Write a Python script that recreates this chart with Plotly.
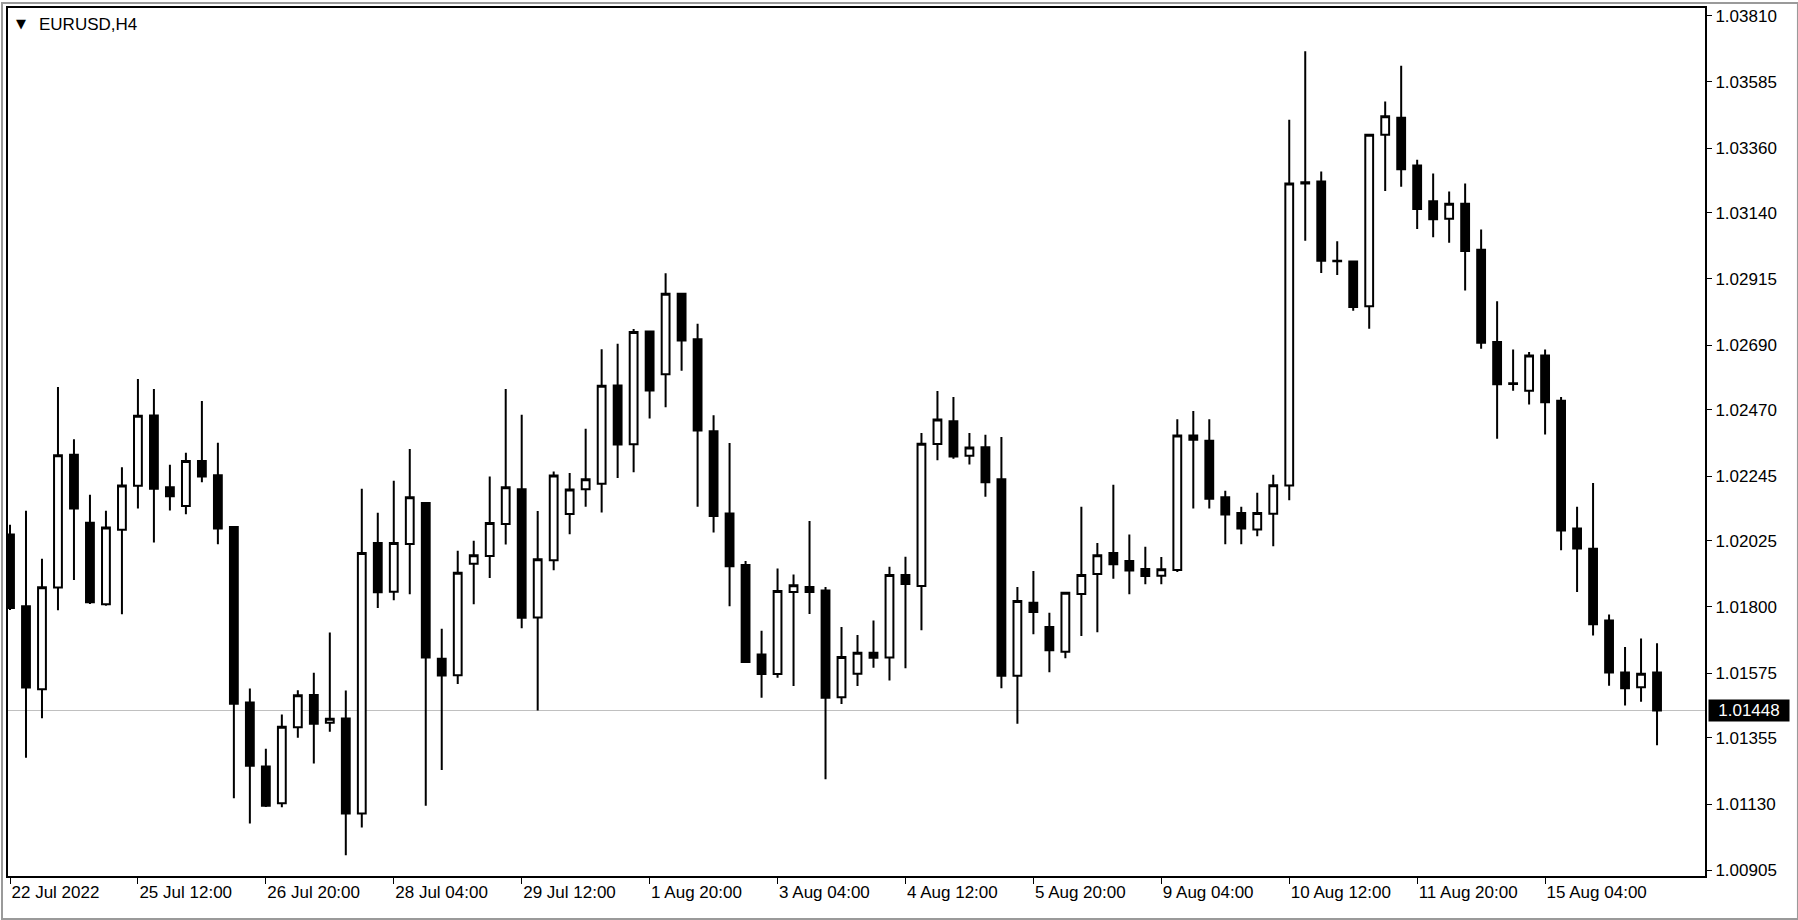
import plotly.graph_objects as go

# EURUSD H4 bars, oldest first
opens = [1.02046, 1.01802, 1.01520, 1.01866, 1.02317, 1.02086, 1.01809, 1.02062, 1.02212, 1.02451,
         1.02207, 1.02143, 1.02296, 1.02248, 1.02072, 1.01475, 1.01258, 1.01133, 1.01391, 1.01501,
         1.01406, 1.01421, 1.01098, 1.02017, 1.01852, 1.02014, 1.02153, 1.01624, 1.01568, 1.01947,
         1.01973, 1.02082, 1.02200, 1.01764, 1.01959, 1.02116, 1.02200, 1.02219, 1.02553, 1.02353,
         1.02736, 1.02591, 1.02865, 1.02710, 1.02397, 1.02118, 1.01943, 1.01638, 1.01572, 1.01851,
         1.01868, 1.01856, 1.01493, 1.01573, 1.01644, 1.01628, 1.01909, 1.01871, 1.02354, 1.02431,
         1.02314, 1.02343, 1.02234, 1.01566, 1.01814, 1.01732, 1.01648, 1.01844, 1.01912, 1.01983,
         1.01956, 1.01929, 1.01906, 1.01926, 1.02383, 1.02365, 1.02173, 1.02119, 1.02063, 1.02117,
         1.02213, 1.03244, 1.03246, 1.02977, 1.02974, 1.02822, 1.03405, 1.03463, 1.03301, 1.03179,
         1.03120, 1.03171, 1.03014, 1.02701, 1.02560, 1.02535, 1.02655, 1.02501, 1.02067, 1.01998,
         1.01754, 1.01577, 1.01527, 1.01577]
highs = [1.02079, 1.02127, 1.01964, 1.02548, 1.02370, 1.02181, 1.02127, 1.02275, 1.02575, 1.02541,
         1.02283, 1.02324, 1.02500, 1.02358, 1.02072, 1.01523, 1.01318, 1.01434, 1.01517, 1.01576,
         1.01713, 1.01516, 1.02202, 1.02120, 1.02229, 1.02337, 1.02156, 1.01726, 1.01991, 1.02025,
         1.02243, 1.02541, 1.02453, 1.02126, 1.02260, 1.02255, 1.02406, 1.02676, 1.02695, 1.02745,
         1.02740, 1.02934, 1.02868, 1.02763, 1.02452, 1.02357, 1.01956, 1.01719, 1.01931, 1.01910,
         1.02092, 1.01868, 1.01732, 1.01705, 1.01754, 1.01937, 1.01971, 1.02391, 1.02534, 1.02514,
         1.02391, 1.02385, 1.02378, 1.01868, 1.01922, 1.01780, 1.01850, 1.02141, 1.02017, 1.02215,
         1.02046, 1.02005, 1.01970, 1.02438, 1.02466, 1.02438, 1.02195, 1.02141, 1.02188, 1.02249,
         1.03456, 1.03689, 1.03280, 1.03043, 1.02976, 1.03408, 1.03518, 1.03640, 1.03320, 1.03273,
         1.03212, 1.03239, 1.03083, 1.02839, 1.02675, 1.02667, 1.02675, 1.02514, 1.02141, 1.02221,
         1.01774, 1.01664, 1.01693, 1.01677]
lows = [1.01790, 1.01287, 1.01422, 1.01789, 1.01892, 1.01810, 1.01804, 1.01775, 1.02135, 1.02019,
        1.02128, 1.02115, 1.02224, 1.02013, 1.01150, 1.01064, 1.01120, 1.01119, 1.01355, 1.01268,
        1.01376, 1.00956, 1.01050, 1.01796, 1.01823, 1.01843, 1.01124, 1.01246, 1.01538, 1.01809,
        1.01898, 1.02012, 1.01728, 1.01448, 1.01925, 1.02047, 1.02141, 1.02121, 1.02238, 1.02258,
        1.02441, 1.02479, 1.02603, 1.02141, 1.02053, 1.01802, 1.01610, 1.01491, 1.01559, 1.01531,
        1.01776, 1.01214, 1.01470, 1.01531, 1.01593, 1.01550, 1.01592, 1.01721, 1.02299, 1.02304,
        1.02284, 1.02175, 1.01524, 1.01403, 1.01707, 1.01578, 1.01626, 1.01701, 1.01714, 1.01896,
        1.01843, 1.01877, 1.01877, 1.01919, 1.02135, 1.02135, 1.02013, 1.02013, 1.02040, 1.02006,
        1.02163, 1.03045, 1.02935, 1.02928, 1.02807, 1.02746, 1.03214, 1.03228, 1.03085, 1.03057,
        1.03038, 1.02876, 1.02678, 1.02372, 1.02535, 1.02488, 1.02386, 1.01993, 1.01851, 1.01703,
        1.01532, 1.01465, 1.01478, 1.01330]
closes = [1.01796, 1.01526, 1.01867, 1.02316, 1.02135, 1.01816, 1.02070, 1.02213, 1.02450, 1.02202,
          1.02176, 1.02296, 1.02243, 1.02067, 1.01471, 1.01260, 1.01124, 1.01393, 1.01500, 1.01403,
          1.01420, 1.01098, 1.01983, 1.01850, 1.02017, 1.02173, 1.01628, 1.01567, 1.01916, 1.01976,
          1.02085, 1.02207, 1.01763, 1.01962, 1.02247, 1.02199, 1.02234, 1.02552, 1.02352, 1.02735,
          1.02536, 1.02865, 1.02706, 1.02400, 1.02109, 1.01938, 1.01613, 1.01572, 1.01854, 1.01874,
          1.01851, 1.01491, 1.01630, 1.01644, 1.01627, 1.01909, 1.01878, 1.02355, 1.02437, 1.02311,
          1.02342, 1.02224, 1.01566, 1.01820, 1.01783, 1.01653, 1.01848, 1.01909, 1.01976, 1.01945,
          1.01924, 1.01905, 1.01928, 1.02383, 1.02368, 1.02168, 1.02114, 1.02067, 1.02119, 1.02214,
          1.03239, 1.03239, 1.02977, 1.02975, 1.02820, 1.03405, 1.03468, 1.03288, 1.03153, 1.03118,
          1.03171, 1.03010, 1.02698, 1.02557, 1.02558, 1.02655, 1.02496, 1.02060, 1.01999, 1.01741,
          1.01577, 1.01524, 1.01573, 1.01448]

# time labels, one every 8 bars starting at the first bar
date_labels = ["22 Jul 2022", "25 Jul 12:00", "26 Jul 20:00", "28 Jul 04:00", "29 Jul 12:00",
               "1 Aug 20:00", "3 Aug 04:00", "4 Aug 12:00", "5 Aug 20:00", "9 Aug 04:00",
               "10 Aug 12:00", "11 Aug 20:00", "15 Aug 04:00"]
label_step = 8
price_labels = ["1.03810", "1.03585", "1.03360", "1.03140", "1.02915", "1.02690", "1.02470",
                "1.02245", "1.02025", "1.01800", "1.01575", "1.01355", "1.01130", "1.00905"]

bars = list(range(len(opens)))
last_price = closes[-1]

FONT = "Liberation Sans"

fig = go.Figure(go.Candlestick(
    x=bars, open=opens, high=highs, low=lows, close=closes,
    increasing=dict(line=dict(color="black", width=2), fillcolor="white"),
    decreasing=dict(line=dict(color="black", width=2), fillcolor="black"),
    whiskerwidth=0,
    showlegend=False,
))

# current bid line
fig.add_shape(type="line", xref="paper", x0=0, x1=1, y0=last_price, y1=last_price,
              line=dict(color="#c0c0c0", width=1), layer="below")

# window frame
fig.add_shape(type="rect", xref="paper", yref="paper",
              x0=-6 / 1698, x1=1791 / 1698, y0=-43 / 870, y1=875 / 870,
              line=dict(color="#9a9a9a", width=2), layer="below")

fig.add_annotation(x=0, y=1, xref="paper", yref="paper", xanchor="left", yanchor="top",
                   xshift=6, yshift=-6, text="▼", showarrow=False,
                   font=dict(family="DejaVu Sans", size=13, color="black"))
fig.add_annotation(x=0, y=1, xref="paper", yref="paper", xanchor="left", yanchor="top",
                   xshift=29, yshift=-5, text="EURUSD,H4", showarrow=False,
                   font=dict(family=FONT, size=17, color="black"))

# price tag on the axis
fig.add_annotation(x=1, y=last_price, xref="paper", xanchor="left", yanchor="middle",
                   xshift=3, text=f"{last_price:.5f}", showarrow=False,
                   bgcolor="black", width=78, height=19, borderpad=1,
                   font=dict(family=FONT, size=17, color="white"))

fig.update_layout(
    width=1798, height=920,
    margin=dict(l=7, r=93, t=6, b=44),
    paper_bgcolor="white", plot_bgcolor="white",
    font=dict(family=FONT, size=17, color="black"),
    boxgap=0.3, boxgroupgap=0.3,
    xaxis=dict(
        range=[-0.125, 106], rangeslider=dict(visible=False),
        tickvals=bars[::label_step], ticktext=date_labels,
        ticks="outside", ticklen=6, tickcolor="black", tickwidth=1,
        ticklabelposition="outside right",
        showgrid=False, zeroline=False,
        showline=True, linecolor="black", linewidth=2, mirror=True,
    ),
    yaxis=dict(
        side="right", range=[1.008854, 1.03836],
        tickvals=[float(p) for p in price_labels], ticktext=price_labels,
        ticks="outside", ticklen=5, tickcolor="black", tickwidth=1,
        showgrid=False, zeroline=False,
        showline=True, linecolor="black", linewidth=2, mirror=True,
    ),
)

fig.write_html("out.html", config={"displayModeBar": False},
               post_script="document.body.style.margin = '0';")
